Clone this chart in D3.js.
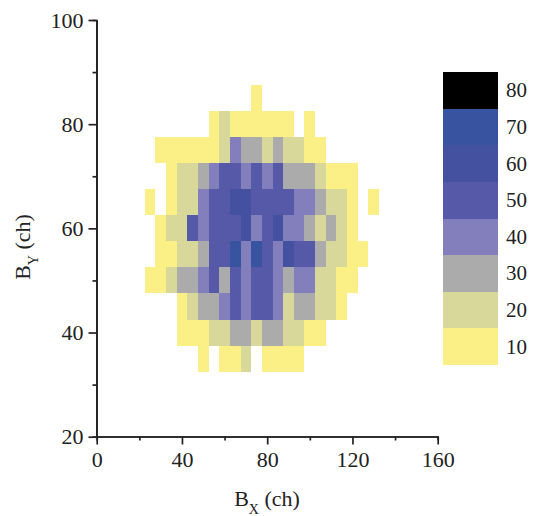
<!DOCTYPE html>
<html>
<head>
<meta charset="utf-8">
<script src="https://cdn.jsdelivr.net/npm/d3@7"></script>
<style>
  html, body { margin: 0; padding: 0; background: #fff; }
  text { font-family: "Liberation Serif", serif; fill: #222; }
</style>
</head>
<body>
<svg id="chart" width="535" height="516" style="display:block"></svg>
<script>
// bin centres, 5 ch apart
const columns = [25, 30, 35, 40, 45, 50, 55, 60, 65, 70, 75, 80, 85, 90, 95, 100, 105, 110, 115, 120, 125, 130];
const rows = [85, 80, 75, 70, 65, 60, 55, 50, 45, 40, 35];

// counts per bin, one line per row, 0 = empty
const counts = [
  [0, 0, 0, 0, 0, 0, 0, 0, 0, 0, 10, 0, 0, 0, 0, 0, 0, 0, 0, 0, 0, 0],
  [0, 0, 0, 0, 0, 0, 10, 20, 10, 10, 10, 10, 10, 10, 0, 10, 0, 0, 0, 0, 0, 0],
  [0, 10, 10, 10, 10, 10, 10, 20, 40, 30, 30, 20, 30, 20, 20, 10, 10, 0, 0, 0, 0, 0],
  [0, 0, 10, 20, 20, 30, 40, 50, 50, 40, 50, 40, 50, 30, 30, 30, 20, 10, 10, 10, 0, 0],
  [10, 0, 10, 20, 20, 40, 50, 50, 60, 60, 50, 50, 50, 50, 40, 40, 30, 20, 20, 10, 0, 10],
  [0, 10, 20, 20, 50, 40, 50, 50, 50, 60, 40, 50, 60, 40, 40, 30, 20, 30, 20, 10, 0, 0],
  [0, 10, 10, 20, 20, 30, 50, 50, 70, 40, 70, 50, 40, 60, 50, 50, 30, 20, 20, 10, 10, 0],
  [10, 10, 20, 30, 30, 40, 50, 30, 50, 40, 50, 50, 40, 30, 40, 40, 20, 20, 10, 10, 0, 0],
  [0, 0, 0, 10, 20, 30, 30, 40, 50, 40, 50, 50, 40, 20, 30, 30, 20, 20, 10, 0, 0, 0],
  [0, 0, 0, 10, 10, 10, 20, 20, 30, 30, 20, 30, 30, 20, 20, 10, 10, 0, 0, 0, 0, 0],
  [0, 0, 0, 0, 0, 10, 0, 10, 10, 20, 0, 10, 10, 10, 10, 0, 0, 0, 0, 0, 0, 0]
];

const legendLabels = [80, 70, 60, 50, 40, 30, 20, 10];
const legendColors = ['#000000', '#3853a0', '#4351a0', '#5559a8', '#837fbd', '#ababab', '#d8d89b', '#fbf086'];

const xTicks = [0, 40, 80, 120, 160];
const xMinor = [20, 60, 100, 140];
const yTicks = [20, 40, 60, 80, 100];
const yMinor = [30, 50, 70, 90];

const svg = d3.select('#chart');

const x = d3.scaleLinear().domain([0, 160]).range([96.7, 437.7]);
const y = d3.scaleLinear().domain([20, 100]).range([436.7, 20]);
const color = d3.scaleOrdinal().domain(legendLabels).range(legendColors);

// heat cells
const cells = [];
counts.forEach((line, r) => {
  line.forEach((v, c) => {
    if (v > 0) cells.push({bx: columns[c], by: rows[r], v: v});
  });
});

svg.append('g')
  .selectAll('rect')
  .data(cells)
  .enter()
  .append('rect')
  .attr('x', d => x(d.bx - 2.5))
  .attr('y', d => y(d.by + 2.5))
  .attr('width', d => x(d.bx + 2.5) - x(d.bx - 2.5))
  .attr('height', d => y(d.by - 2.5) - y(d.by + 2.5))
  .attr('fill', d => color(d.v))
  .attr('shape-rendering', 'crispEdges');

function styleAxis(g) {
  g.selectAll('path, line').attr('stroke', '#222').attr('stroke-width', 1.7);
  g.selectAll('text').attr('font-size', 22).attr('font-family', '"Liberation Serif", serif').attr('fill', '#222');
}

// minor ticks first so the main axis sits on top
svg.append('g')
  .attr('transform', 'translate(0,436.5)')
  .call(d3.axisBottom(x).tickValues(xMinor).tickSize(4).tickFormat(''))
  .call(styleAxis);
svg.append('g')
  .attr('transform', 'translate(0,436.5)')
  .call(d3.axisBottom(x).tickValues(xTicks).tickSize(8).tickSizeOuter(0).tickPadding(7).tickFormat(d3.format('d')))
  .call(styleAxis);
svg.append('g')
  .attr('transform', 'translate(96.5,0)')
  .call(d3.axisLeft(y).tickValues(yMinor).tickSize(4).tickFormat(''))
  .call(styleAxis);
svg.append('g')
  .attr('transform', 'translate(96.5,0)')
  .call(d3.axisLeft(y).tickValues(yTicks).tickSize(8).tickSizeOuter(0).tickPadding(5).tickFormat(d3.format('d')))
  .call(styleAxis);

// axis titles
const xTitle = svg.append('text')
  .attr('x', 267)
  .attr('y', 506)
  .attr('text-anchor', 'middle')
  .attr('font-size', 22);
xTitle.append('tspan').text('B');
xTitle.append('tspan').attr('dy', 8).attr('font-size', 14).text('X');
xTitle.append('tspan').attr('dy', -8).text(' (ch)');

const yTitle = svg.append('text')
  .attr('transform', 'translate(30,247) rotate(-90)')
  .attr('text-anchor', 'middle')
  .attr('font-size', 22);
yTitle.append('tspan').text('B');
yTitle.append('tspan').attr('dy', 8).attr('font-size', 14).text('Y');
yTitle.append('tspan').attr('dy', -8).text(' (ch)');

// legend
const legendY = d3.scaleBand().domain(legendLabels).range([72, 365]);

svg.append('g')
  .selectAll('rect')
  .data(legendLabels)
  .enter()
  .append('rect')
  .attr('x', 443)
  .attr('y', d => legendY(d))
  .attr('width', 55)
  .attr('height', legendY.bandwidth())
  .attr('fill', d => color(d))
  .attr('shape-rendering', 'crispEdges');

svg.append('g')
  .selectAll('text')
  .data(legendLabels)
  .enter()
  .append('text')
  .attr('x', 506)
  .attr('y', d => legendY(d) + legendY.bandwidth() / 2 + 7)
  .attr('font-size', 21)
  .text(d => d);
</script>
</body>
</html>
